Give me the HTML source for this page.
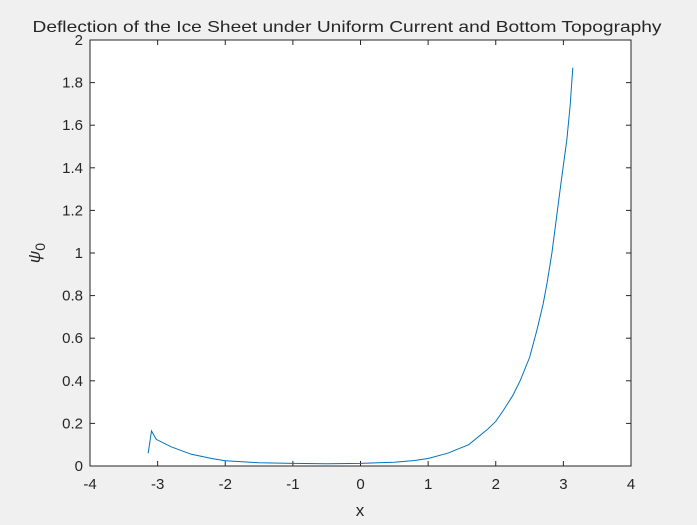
<!DOCTYPE html>
<html><head><meta charset="utf-8"><style>
body{margin:0;background:#f0f0f0;width:697px;height:520px;overflow:hidden}
text{font-family:"Liberation Sans",Arial,sans-serif;fill:#262626}
</style></head><body>
<svg id="chart" width="697" height="520" xmlns="http://www.w3.org/2000/svg">
<rect x="90" y="40" width="541" height="426" fill="#fff"/>
<text x="347" y="32" text-anchor="middle" font-size="16" textLength="629" lengthAdjust="spacingAndGlyphs">Deflection of the Ice Sheet under Uniform Current and Bottom Topography</text>
<text x="360" y="516" text-anchor="middle" font-size="17">x</text>
<g transform="translate(40,253) rotate(-90)"><text x="0" y="0" text-anchor="middle" font-size="17" font-family="Liberation Serif" font-style="italic">ψ<tspan font-size="14" dy="5" font-style="normal">0</tspan></text></g>
<g id="axes"></g>
<path id="line" fill="none" stroke="#0072bd" stroke-width="1"/>
<rect x="90" y="40" width="541" height="426" fill="none" stroke="#262626" stroke-width="1"/>
</svg>
<script>
const xs=[-3.14,-3.09,-3.02,-2.8,-2.5,-2.2,-2.0,-1.5,-1.0,-0.5,0,0.5,0.8,1.0,1.29,1.6,1.87,2.0,2.11,2.25,2.36,2.5,2.61,2.7,2.76,2.83,2.9,2.97,3.05,3.1,3.14];
const ys=[0.06,0.165,0.125,0.09,0.055,0.035,0.025,0.015,0.012,0.011,0.012,0.018,0.026,0.035,0.06,0.1,0.17,0.21,0.26,0.33,0.40,0.51,0.64,0.76,0.86,1.0,1.17,1.34,1.53,1.69,1.87];
const xTicks=[-4,-3,-2,-1,0,1,2,3,4];
const yTicks=[0,0.2,0.4,0.6,0.8,1,1.2,1.4,1.6,1.8,2];
const L=90,R=631,T=40,B=466;
const sx=v=>L+(v+4)/8*(R-L);
const sy=v=>B-v/2*(B-T);
const ns="http://www.w3.org/2000/svg";
const g=document.getElementById('axes');
function el(t,a){const e=document.createElementNS(ns,t);for(const k in a)e.setAttribute(k,a[k]);g.appendChild(e);return e;}
xTicks.forEach(v=>{
 const x=sx(v);
 const t1=el('line',{x1:x,x2:x,y1:B,y2:B-5,stroke:'#262626'});
 
 
 const t2=el('line',{x1:x,x2:x,y1:T,y2:T+5,stroke:'#262626'});
 
 
 const tx=el('text',{x:x,y:B+23,'text-anchor':'middle','font-size':15});
 tx.textContent=v;
 
 
});
yTicks.forEach(v=>{
 const y=sy(v);
 const t1=el('line',{x1:L,x2:L+5,y1:y,y2:y,stroke:'#262626'});
 
 
 const t2=el('line',{x1:R,x2:R-5,y1:y,y2:y,stroke:'#262626'});
 
 
 const tx=el('text',{x:L-7,y:y+5,'text-anchor':'end','font-size':15});
 tx.textContent=String(+v.toFixed(1));
 
 
});
document.getElementById('line').setAttribute('d',xs.map((x,i)=>(i?'L':'M')+sx(x).toFixed(1)+','+sy(ys[i]).toFixed(1)).join(''));
</script>
</body></html>
